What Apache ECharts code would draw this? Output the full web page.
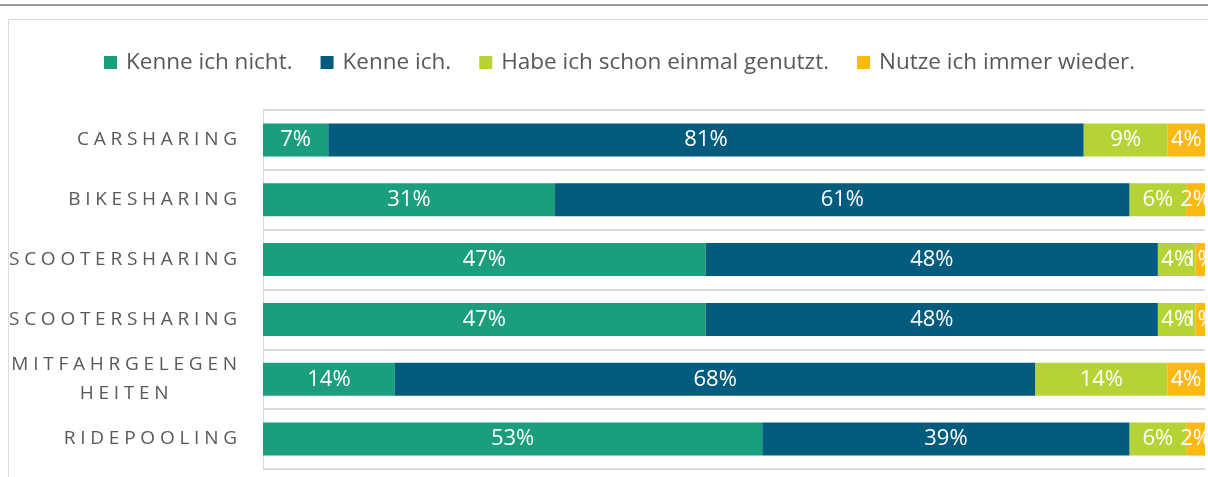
<!DOCTYPE html>
<html>
<head>
<meta charset="utf-8">
<script src="https://cdn.jsdelivr.net/npm/echarts@6/dist/echarts.min.js"></script>
<style>
  html, body { margin: 0; padding: 0; background: #fff; }
  #chart { width: 1208px; height: 477px; }
</style>
</head>
<body>
<div id="chart"></div>
<script>
const categories = ['CARSHARING', 'BIKESHARING', 'SCOOTERSHARING', 'SCOOTERSHARING', 'MITFAHRGELEGEN\nHEITEN', 'RIDEPOOLING'];
const seriesNames = ['Kenne ich nicht.', 'Kenne ich.', 'Habe ich schon einmal genutzt.', 'Nutze ich immer wieder.'];
const colors = ['#1a9e7e', '#035b7e', '#b5d334', '#fdb913'];

const kenneNicht = [7, 31, 47, 47, 14, 53];
const kenne = [81, 61, 48, 48, 68, 39];
const genutzt = [9, 6, 4, 4, 14, 6];
const immer = [4, 2, 1, 1, 4, 2];

const allValues = [kenneNicht, kenne, genutzt, immer];
// rows are shown as 100% stacks, labels keep the rounded survey values
const rowSums = categories.map((c, i) => allValues.reduce((s, arr) => s + arr[i], 0));

// letter spacing for the category labels
function spaced(str) {
  return str.split('').join('\u2005');
}

const chart = echarts.init(document.getElementById('chart'));

const option = {
  backgroundColor: '#fff',
  textStyle: { fontFamily: 'Open Sans' },
  graphic: [
    { type: 'rect', shape: { x: 0, y: 4, width: 1208, height: 2 }, style: { fill: '#9a9a9a' }, silent: true },
    { type: 'rect', shape: { x: 8.5, y: 19.5, width: 1210, height: 480 }, style: { fill: 'none', stroke: '#dcdcdc', lineWidth: 1 }, silent: true }
  ],
  legend: {
    top: 46,
    left: 99,
    itemWidth: 13,
    itemHeight: 13,
    itemGap: 28,
    icon: 'rect',
    textStyle: { color: '#595959', fontSize: 22.5, fontFamily: 'Open Sans', padding: [0, 0, 0, 4] },
    data: seriesNames
  },
  grid: { left: 263, right: 3, top: 110, bottom: 8 },
  xAxis: {
    type: 'value',
    min: 0,
    max: 100,
    show: false
  },
  yAxis: {
    type: 'category',
    inverse: true,
    data: categories,
    axisLine: { show: true, lineStyle: { color: '#d9d9d9', width: 1 } },
    axisTick: { show: false },
    splitLine: { show: true, lineStyle: { color: '#d9d9d9', width: 2 } },
    axisLabel: {
      margin: 26,
      color: '#595959',
      fontSize: 19,
      lineHeight: 29,
      formatter: v => v.split('\n').map(l => '{c|' + spaced(l) + '}').join('\n'),
      rich: { c: { align: 'center', fontSize: 19, color: '#595959', lineHeight: 29 } }
    }
  },
  series: allValues.map((arr, k) => ({
    name: seriesNames[k],
    type: 'bar',
    stack: 'total',
    barWidth: 33,
    itemStyle: { color: colors[k] },
    label: {
      show: true,
      position: 'inside',
      color: '#fff',
      fontSize: 22,
      fontFamily: 'Open Sans',
      formatter: p => arr[p.dataIndex] + '%'
    },
    data: arr.map((v, i) => v / rowSums[i] * 100)
  }))
};

chart.setOption(option);
</script>
</body>
</html>
